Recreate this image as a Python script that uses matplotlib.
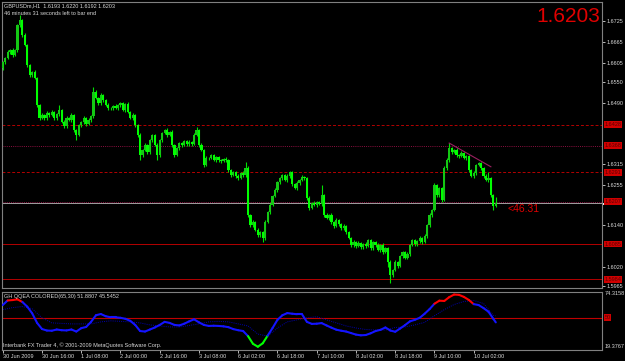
import numpy as np
import matplotlib.pyplot as plt
import matplotlib.transforms as mtransforms
from matplotlib.collections import LineCollection

plt.rcParams['font.family'] = ['Liberation Sans', 'DejaVu Sans']

# header texts
symbol_line = 'GBPUSDm,H1  1.6193 1.6220 1.6192 1.6203'
timer_line = '46 minutes 31 seconds left to bar end'
last_price = '1.6203'
countdown = '<46.31'

# H1 candles (open of each bar = previous close)
first_open = 1.6590
closes = [
    1.6607, 1.6619, 1.6636, 1.6642, 1.6627, 1.6642, 1.6713, 1.6728, 1.6685, 1.6656,
    1.6598, 1.6570, 1.6578, 1.6561, 1.6484, 1.6446, 1.6455, 1.6446, 1.6461, 1.6455,
    1.6464, 1.6446, 1.6458, 1.6469, 1.6435, 1.6423, 1.6446, 1.6441, 1.6455, 1.6412,
    1.6398, 1.6426, 1.6435, 1.6446, 1.6429, 1.6441, 1.6452, 1.6521, 1.6504, 1.6489,
    1.6512, 1.6498, 1.6484, 1.6475, 1.6475, 1.6481, 1.6475, 1.6484, 1.6489, 1.6469,
    1.6487, 1.6464, 1.6446, 1.6455, 1.6426, 1.6398, 1.6340, 1.6355, 1.6369, 1.6349,
    1.6383, 1.6398, 1.6369, 1.6340, 1.6383, 1.6403, 1.6412, 1.6398, 1.6406, 1.6369,
    1.6340, 1.6360, 1.6375, 1.6369, 1.6380, 1.6372, 1.6377, 1.6372, 1.6398, 1.6412,
    1.6369, 1.6355, 1.6311, 1.6332, 1.6332, 1.6340, 1.6326, 1.6334, 1.6326, 1.6323,
    1.6329, 1.6326, 1.6297, 1.6283, 1.6291, 1.6280, 1.6274, 1.6289, 1.6283, 1.6303,
    1.6168, 1.6139, 1.6148, 1.6125, 1.6111, 1.6119, 1.6102, 1.6148, 1.6177, 1.6197,
    1.6223, 1.6240, 1.6263, 1.6274, 1.6283, 1.6268, 1.6280, 1.6291, 1.6257, 1.6245,
    1.6260, 1.6268, 1.6277, 1.6274, 1.6217, 1.6188, 1.6202, 1.6197, 1.6205, 1.6200,
    1.6225, 1.6168, 1.6159, 1.6168, 1.6148, 1.6136, 1.6154, 1.6142, 1.6131, 1.6136,
    1.6119, 1.6102, 1.6082, 1.6091, 1.6079, 1.6088, 1.6076, 1.6085, 1.6079, 1.6096,
    1.6073, 1.6091, 1.6082, 1.6068, 1.6082, 1.6062, 1.6073, 1.6033, 1.5996, 1.6010,
    1.6033, 1.6022, 1.6050, 1.6062, 1.6045, 1.6056, 1.6082, 1.6096, 1.6085, 1.6093,
    1.6102, 1.6091, 1.6108, 1.6139, 1.6168, 1.6182, 1.6254, 1.6225, 1.6245, 1.6211,
    1.6303, 1.6326, 1.6360, 1.6349, 1.6355, 1.6340, 1.6337, 1.6346, 1.6332, 1.6337,
    1.6297, 1.6280, 1.6289, 1.6311, 1.6317, 1.6303, 1.6280, 1.6268, 1.6274, 1.6225,
    1.6193, 1.6203,
]
# wick lengths above / below the body, in pips
upper_pips = [
    5, 4, 6, 3, 5, 4, 5, 14, 4, 6,  3, 5, 4, 6, 3, 4, 5, 3, 6, 4,
    5, 3, 4, 15, 3, 5, 6, 4, 5, 3,  4, 5, 3, 6, 4, 5, 3, 14, 5, 4,
    6, 3, 4, 5, 3, 4, 6, 3, 5, 4,  3, 5, 4, 6, 3, 4, 5, 3, 6, 4,
    5, 3, 4, 6, 5, 4, 3, 5, 4, 6,  3, 5, 4, 3, 5, 4, 6, 3, 5, 9,
    4, 5, 3, 6, 4, 5, 3, 4, 5, 3,  4, 6, 3, 5, 4, 3, 5, 4, 6, 17,
    5, 4, 6, 3, 5, 4, 3, 6, 4, 5,  3, 6, 4, 5, 3, 4, 6, 5, 3, 4,
    5, 3, 6, 4, 3, 5, 4, 6, 3, 5,  29, 4, 5, 3, 6, 4, 5, 3, 4, 6,
    3, 5, 4, 6, 3, 5, 4, 3, 6, 4,  5, 3, 4, 6, 3, 5, 4, 3, 5, 4,
    6, 3, 5, 4, 3, 6, 4, 5, 3, 4,  5, 4, 6, 3, 5, 4, 6, 3, 5, 4,
    6, 5, 15, 4, 3, 5, 4, 6, 3, 5,  4, 3, 6, 4, 5, 3, 4, 5, 17, 4,
    3, 17,
]
lower_pips = [
    4, 6, 3, 5, 4, 3, 5, 4, 6, 3,  5, 4, 6, 3, 5, 4, 3, 6, 4, 5,
    3, 6, 4, 5, 3, 4, 6, 3, 5, 4,  15, 3, 5, 4, 6, 3, 5, 4, 3, 6,
    4, 5, 3, 6, 4, 5, 3, 4, 6, 3,  5, 4, 3, 6, 4, 5, 14, 4, 3, 5,
    4, 6, 3, 14, 4, 5, 3, 6, 4, 5,  6, 3, 5, 4, 3, 6, 4, 5, 3, 4,
    5, 4, 6, 3, 5, 4, 3, 6, 4, 5,  3, 4, 6, 5, 3, 4, 6, 3, 5, 4,
    6, 5, 4, 3, 6, 5, 12, 4, 3, 5,  4, 3, 5, 6, 4, 3, 5, 4, 6, 3,
    4, 5, 3, 6, 4, 5, 3, 4, 6, 3,  5, 4, 3, 6, 4, 5, 3, 4, 6, 5,
    4, 3, 5, 6, 4, 3, 5, 4, 6, 3,  5, 4, 6, 3, 5, 4, 3, 14, 23, 4,
    3, 5, 4, 6, 3, 4, 5, 3, 6, 4,  4, 5, 3, 6, 4, 5, 3, 4, 6, 5,
    3, 4, 5, 6, 3, 4, 5, 3, 4, 6,  5, 3, 4, 6, 3, 5, 4, 3, 4, 5,
    10, 1,
]

# right price scale (the other grid prices sit under the red line labels)
price_ticks = [1.6725, 1.6665, 1.6605, 1.6550, 1.6490,
               1.6315, 1.6255, 1.6140, 1.6020, 1.5965]
# horizontal lines drawn on the chart
level_prices = [1.6428, 1.6368, 1.6291, 1.6207, 1.6085, 1.5984]
level_styles = ['dashed', 'dotted', 'dashed', 'dotted', 'solid', 'solid']
bid_price = 1.6203
trend_bars = [182, 199]
trend_prices = [1.6375, 1.6307]

time_labels = ['30 Jun 2009', '30 Jun 16:00', '1 Jul 08:00', '2 Jul 00:00',
               '2 Jul 16:00', '3 Jul 08:00', '6 Jul 02:00', '6 Jul 18:00',
               '7 Jul 10:00', '8 Jul 02:00', '8 Jul 18:00', '9 Jul 10:00',
               '10 Jul 02:00']

# GH QQEA COLORED(65,30) - main line every 2 bars, signal every 4 bars
qqe_title = 'GH QQEA COLORED(65,30) 51.8807 45.5452'
qqe_main = [
    62.5, 67.0, 67.4, 68.1, 65.5, 60.9, 54.4, 45.0, 39.0, 37.5,
    37.3, 38.5, 37.8, 37.6, 38.5, 36.5, 39.8, 41.0, 46.0, 52.5,
    53.7, 51.5, 50.5, 50.5, 50.0, 49.0, 47.0, 43.0, 37.0, 36.5,
    38.5, 40.5, 43.0, 46.0, 45.0, 43.0, 42.5, 44.2, 46.5, 48.5,
    45.5, 43.0, 42.0, 42.2, 42.0, 41.6, 40.8, 38.9, 37.8, 37.0,
    32.0, 24.5, 21.6, 25.0, 32.5, 40.0, 48.0, 52.5, 54.6, 54.0,
    53.5, 53.5, 46.0, 44.0, 44.2, 44.8, 42.5, 40.3, 38.3, 37.3,
    36.5, 35.0, 33.5, 32.8, 33.1, 34.8, 37.0, 38.2, 40.5, 37.5,
    36.3, 39.5, 42.8, 46.5, 48.0, 50.0, 54.0, 58.5, 63.8, 66.8,
    66.5, 70.2, 72.8, 72.5, 70.5, 67.5, 63.4, 62.5, 59.5, 56.0,
    49.0, 45.5,
]
qqe_signal = [
    58, 60, 61, 59, 50, 45, 44.5, 44, 44, 44,
    46, 47, 46.5, 46, 45, 43, 42, 41, 41, 42.5,
    44, 46, 46.5, 46, 44, 42, 34, 32, 40, 46,
    48, 50, 51, 48, 45, 42, 40, 38.5, 38, 38,
    40.5, 41, 43, 45.5, 52, 58, 63, 66, 67, 64,
    52.5, 51.9,
]
qqe_top, qqe_bottom, qqe_level = 74.3158, 19.3767, 50

BG = 'black'
GREY = '#808080'
TXT = '#d8d8d8'
RED = '#d00000'

W, H = 625, 361
fig = plt.figure(figsize=(W / 100, H / 100), dpi=100, facecolor=BG)
ax = fig.add_axes([2 / W, 1 - 288 / H, 600 / W, 286 / H], facecolor=BG)
ax2 = fig.add_axes([2 / W, 1 - 350 / H, 600 / W, 58 / H], facecolor=BG)

n = len(closes)
bars = np.arange(n)
c = np.array(closes)
o = np.r_[first_open, c[:-1]]
hi = np.maximum(o, c) + np.array(upper_pips) * 1e-4
lo = np.minimum(o, c) - np.array(lower_pips) * 1e-4
up = c >= o

ax.vlines(bars, lo, hi, color='#00e000', lw=0.8, zorder=3)
ax.bar(bars[up], (c - o)[up], bottom=o[up], width=0.9, color='#14c814', lw=0, zorder=3)
ax.bar(bars[~up], (c - o)[~up], bottom=o[~up], width=0.9, color='#00ff00', lw=0, zorder=3)

for p, ls in zip(level_prices, level_styles):
    col = '#8c1040' if ls == 'dotted' else '#b40000'
    dash = (0, (1, 1.2)) if ls == 'dotted' else ((0, (3, 2)) if ls == 'dashed' else '-')
    ax.axhline(p, color=col, lw=0.7, linestyle=dash, zorder=2)
ax.axhline(bid_price, color='#a0a0a0', lw=0.7, zorder=2)
ax.plot(trend_bars, trend_prices, color='#9a2060', lw=0.8, zorder=4)

xmax = 600 / 2.453 - 0.3
ax.set_xlim(-0.3, xmax)
ax.set_ylim(1.5959, 1.6780)
ax.set_xticks([])
ax.yaxis.tick_right()
ax.set_yticks(price_ticks)
ax.set_yticklabels([f'{p:.4f}' for p in price_ticks])
ax.tick_params(axis='y', colors=TXT, labelsize=4, length=2, width=0.6, pad=1)
for s in ax.spines.values():
    s.set_color(GREY)
    s.set_linewidth(0.8)

bt = mtransforms.blended_transform_factory(ax.transAxes, ax.transData)
# bid marker on the price scale, mostly covered by the red label above it
ax.plot([1.002, 1.030], [bid_price - 0.0003] * 2, transform=bt, color='#f0f0f0',
        lw=1.4, clip_on=False, zorder=5, solid_capstyle='butt')
for p in level_prices:
    ax.text(1.004, p, f'{p:.4f}', transform=bt, fontsize=4, color='#5a0000',
            va='center', ha='left', clip_on=False, zorder=6,
            bbox=dict(boxstyle='square,pad=0.15', fc=RED, ec='none'))

ax.text(205.9, 1.6186, countdown, fontsize=7.5, color='#e00000', va='center', ha='left')
fig.text(600 / W, 1 - 17 / H, last_price, fontsize=15, color='#e00000', ha='right', va='center')
fig.text(4 / W, 1 - 5.5 / H, symbol_line, fontsize=4, color=TXT, va='center')
fig.text(4 / W, 1 - 13.5 / H, timer_line, fontsize=4, color=TXT, va='center')

# indicator panel
main_bars = np.r_[np.arange(0, n - 1, 2), n - 1]
sig_bars = np.r_[np.arange(0, n - 1, 4), n - 1]
qm = np.array(qqe_main)
pts = np.column_stack([main_bars, qm])
segs = np.stack([pts[:-1], pts[1:]], axis=1)
mid = (qm[:-1] + qm[1:]) / 2
cols = ['#ff0000' if m >= 65 else ('#00ff00' if m <= 30 else '#1414ff') for m in mid]
ax2.add_collection(LineCollection(segs, colors=cols, linewidths=1.5, capstyle='round', zorder=3))
ax2.plot(sig_bars, qqe_signal, color='#0000b0', lw=0.7, linestyle=(0, (1, 1.2)), zorder=2)
ax2.axhline(qqe_level, color='#c00000', lw=0.8, zorder=1)

ax2.set_xlim(-0.3, xmax)
ax2.set_ylim(18.4, 75.3)
ax2.set_yticks([])
tick_bars = np.arange(0, 16 * len(time_labels), 16)
ax2.set_xticks(tick_bars)
ax2.set_xticklabels(time_labels)
ax2.tick_params(axis='x', colors=TXT, labelsize=4, length=2, width=0.6, pad=1)
for lab in ax2.get_xticklabels():
    lab.set_ha('left')
for s in ax2.spines.values():
    s.set_color(GREY)
    s.set_linewidth(0.8)

bt2 = mtransforms.blended_transform_factory(ax2.transAxes, ax2.transData)
ax2.text(1.005, qqe_top, f'{qqe_top:.4f}', transform=bt2, fontsize=4, color=TXT,
         va='center', ha='left', clip_on=False)
ax2.text(1.005, qqe_bottom, f'{qqe_bottom:.4f}', transform=bt2, fontsize=4, color=TXT,
         va='bottom', ha='left', clip_on=False)
ax2.text(1.004, qqe_level, f'{qqe_level}', transform=bt2, fontsize=4, color='#5a0000',
         va='center', ha='left', clip_on=False,
         bbox=dict(boxstyle='square,pad=0.15', fc=RED, ec='none'))
ax2.text(2 / 600, 0.914, qqe_title, transform=ax2.transAxes, fontsize=4, color=TXT, va='center')
ax2.text(1 / 600, 0.086, 'Interbank FX Trader 4, \u00a9 2001-2009 MetaQuotes Software Corp.',
         transform=ax2.transAxes, fontsize=4, color=TXT, va='center')

fig.savefig('out.png', dpi=100, facecolor=BG)
